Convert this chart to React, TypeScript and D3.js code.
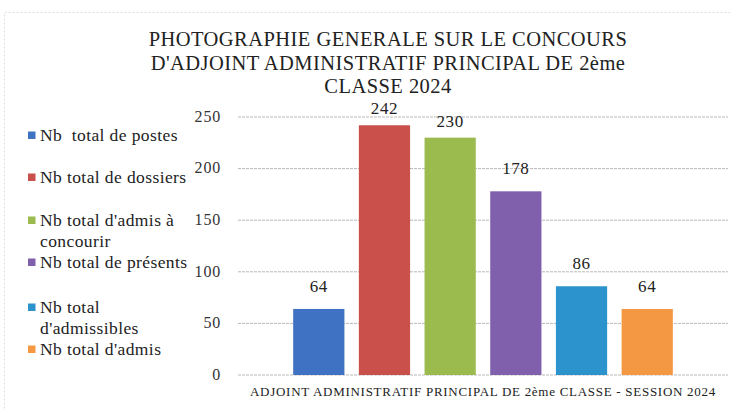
import * as d3 from 'd3';
import { useEffect, useRef } from 'react';

// Chart data
const category = 'ADJOINT ADMINISTRATIF PRINCIPAL DE 2ème CLASSE - SESSION 2024';
const seriesNames = [
  'Nb  total de postes',
  'Nb total de dossiers',
  "Nb total d'admis à concourir",
  'Nb total de présents',
  "Nb total d'admissibles",
  "Nb total d'admis",
];
const seriesValues = [64, 242, 230, 178, 86, 64];
const seriesColors = ['#3f72c2', '#c9504b', '#9cbb4f', '#8060ac', '#2c93cd', '#f49843'];
const legendLines = [
  ['Nb  total de postes'],
  ['Nb total de dossiers'],
  ["Nb total d'admis à", 'concourir'],
  ['Nb total de présents'],
  ['Nb total', "d'admissibles"],
  ["Nb total d'admis"],
];
const yTicks = [0, 50, 100, 150, 200, 250];
const titleLines = [
  'PHOTOGRAPHIE GENERALE SUR LE CONCOURS',
  "D'ADJOINT ADMINISTRATIF PRINCIPAL DE 2ème",
  'CLASSE 2024',
];

export default function App() {
  const ref = useRef<SVGSVGElement>(null);

  useEffect(() => {
    const svg = d3.select(ref.current);
    svg.selectAll('*').remove();

    const W = 730;
    const H = 410;
    const plot = { left: 238, right: 728, top: 117, bottom: 375 };

    svg.append('rect').attr('width', W).attr('height', H).attr('fill', '#fff');
    // faint scanned frame
    svg
      .append('rect')
      .attr('x', 4.5)
      .attr('y', 12.5)
      .attr('width', W - 4)
      .attr('height', H)
      .attr('fill', 'none')
      .attr('stroke', '#ddd')
      .attr('stroke-dasharray', '2,2');

    const y = d3.scaleLinear().domain([0, 250]).range([plot.bottom, plot.top]);
    const x0 = d3.scaleBand().domain([category]).range([plot.left, plot.right]);
    const x1 = d3
      .scaleBand()
      .domain(seriesNames)
      .range([0, x0.bandwidth()])
      .paddingInner(0.22)
      .paddingOuter(0.84);

    // Gridlines
    svg
      .append('g')
      .selectAll('line')
      .data(yTicks)
      .join('line')
      .attr('x1', plot.left)
      .attr('x2', plot.right)
      .attr('y1', (d) => y(d))
      .attr('y2', (d) => y(d))
      .attr('stroke', '#b9b9b9')
      .attr('stroke-width', 1)
      .attr('stroke-dasharray', '3,1');

    // Tick labels
    svg
      .append('g')
      .selectAll('text')
      .data(yTicks)
      .join('text')
      .attr('class', 'serif')
      .attr('x', 221)
      .attr('y', (d) => y(d))
      .attr('dy', '0.3em')
      .attr('text-anchor', 'end')
      .attr('font-size', 16)
      .attr('letter-spacing', 0.8)
      .attr('fill', '#333')
      .text((d) => d);

    // Bars
    const g = svg.append('g').attr('transform', `translate(${x0(category)},0)`);
    g.selectAll('rect')
      .data(seriesValues)
      .join('rect')
      .attr('x', (_, i) => x1(seriesNames[i])!)
      .attr('width', x1.bandwidth())
      .attr('y', (d) => y(d))
      .attr('height', (d) => y(0) - y(d))
      .attr('fill', (_, i) => seriesColors[i]);

    g.selectAll('text')
      .data(seriesValues)
      .join('text')
      .attr('class', 'serif')
      .attr('x', (_, i) => x1(seriesNames[i])! + x1.bandwidth() / 2)
      .attr('y', (d) => y(d) - (d > 200 ? 11 : 17))
      .attr('text-anchor', 'middle')
      .attr('font-size', 17)
      .attr('letter-spacing', 0.6)
      .attr('fill', '#222')
      .text((d) => d);

    // Category label
    svg
      .append('text')
      .attr('class', 'serif')
      .attr('x', (plot.left + plot.right) / 2)
      .attr('y', 396)
      .attr('text-anchor', 'middle')
      .attr('font-size', 13)
      .attr('letter-spacing', 0.72)
      .attr('fill', '#222')
      .text(category);

    // Title
    svg
      .append('g')
      .selectAll('text')
      .data(titleLines)
      .join('text')
      .attr('class', 'serif')
      .attr('x', 388)
      .attr('y', (_, i) => 46 + i * 23.5)
      .attr('text-anchor', 'middle')
      .attr('font-size', 20.5)
      .attr('letter-spacing', 0.45)
      .attr('fill', '#222')
      .text((d) => d);

    // Legend
    const legendY = [141, 183, 226, 268, 313, 355];
    const lg = svg.append('g');
    legendLines.forEach((lines, i) => {
      lg.append('rect')
        .attr('x', 28)
        .attr('y', legendY[i] - 9.5)
        .attr('width', 7.5)
        .attr('height', 7.5)
        .attr('fill', seriesColors[i]);
      lines.forEach((line, j) => {
        lg.append('text')
          .attr('class', 'serif')
          .attr('x', 40)
          .attr('y', legendY[i] + j * 20.5)
          .attr('font-size', 17.5)
          .attr('letter-spacing', 0.4)
          .style('white-space', 'pre')
          .attr('fill', '#222')
          .text(line);
      });
    });
  }, []);

  return (
    <div style={{ position: 'absolute', left: 0, top: 0 }}>
      <style>{`.serif { font-family: 'Liberation Serif', 'Times New Roman', 'DejaVu Serif', serif; }`}</style>
      <svg ref={ref} width={730} height={410} style={{ display: 'block' }} />
    </div>
  );
}
